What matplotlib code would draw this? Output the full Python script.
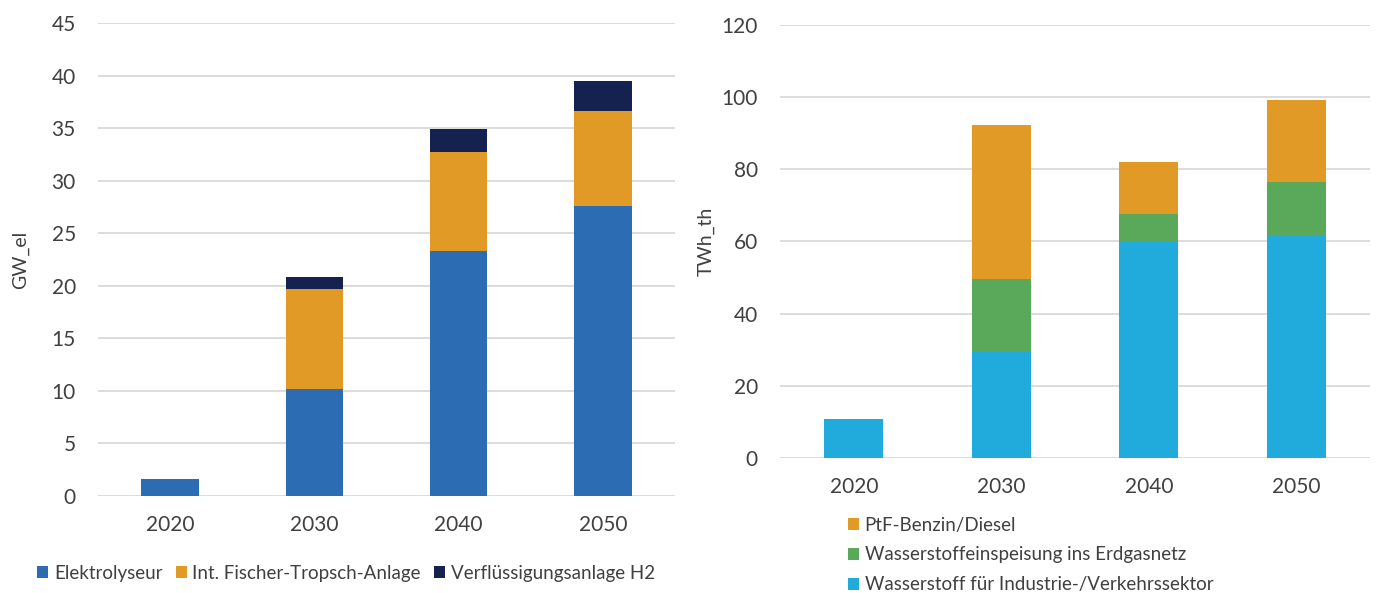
import numpy as np
from matplotlib import pyplot as plt

plt.rcParams['font.family'] = ['Lato', 'DejaVu Sans']

years = ["2020", "2030", "2040", "2050"]

# installed capacity (GW_el)
elektrolyseur = [1.6, 10.2, 23.3, 27.6]
fischer_tropsch = [0.0, 9.5, 9.45, 9.0]
verfluessigung = [0.0, 1.1, 2.2, 2.9]

# energy (TWh_th)
h2_industrie = [10.7, 29.4, 60.1, 61.7]
h2_erdgasnetz = [0.0, 20.2, 7.6, 14.9]
ptf_benzin = [0.0, 42.6, 14.3, 22.7]

text_color = "#404040"
grid_color = "#d9d9d9"


def style_axis(ax, ylim, step, ylabel):
    ax.set_ylim(0, ylim)
    ax.set_yticks(np.arange(0, ylim + 1, step))
    ax.set_xlim(-0.5, 3.5)
    ax.set_xticks(range(len(years)))
    ax.set_xticklabels(years)
    ax.yaxis.grid(True, color=grid_color, linewidth=1.3)
    ax.set_axisbelow(True)
    for s in ax.spines.values():
        s.set_visible(False)
    ax.tick_params(length=0, labelsize=15, colors=text_color)
    ax.tick_params(axis="x", pad=14)
    ax.tick_params(axis="y", pad=16)
    ax.set_ylabel(ylabel, fontsize=14, color=text_color)


fig = plt.figure(figsize=(13.84, 5.93), dpi=100)

# Left: capacities
ax1 = fig.add_axes([0.0708, 0.1636, 0.4169, 0.7976])
x = np.arange(len(years))
w = 0.4
b1 = np.array(elektrolyseur)
b2 = b1 + np.array(fischer_tropsch)
ax1.bar(x, elektrolyseur, w, color="#2b6cb3", label="Elektrolyseur")
ax1.bar(x, fischer_tropsch, w, bottom=b1, color="#e29a27", label="Int. Fischer-Tropsch-Anlage")
ax1.bar(x, verfluessigung, w, bottom=b2, color="#15224f", label="Verflüssigungsanlage H2")
style_axis(ax1, 45, 5, "GW_el")
ax1.yaxis.set_label_coords(-0.12, 0.5)
ax1.legend(loc="upper center", bbox_to_anchor=(0.43, -0.11), ncol=3, frameon=False,
           fontsize=13.5, handlelength=0.6, handleheight=0.6, handletextpad=0.3,
           columnspacing=0.7, labelcolor=text_color)

# Right: energy
ax2 = fig.add_axes([0.5636, 0.2277, 0.4263, 0.7301])
c1 = np.array(h2_industrie)
c2 = c1 + np.array(h2_erdgasnetz)
ax2.bar(x, h2_industrie, w, color="#21aadc", label="Wasserstoff für Industrie-/Verkehrssektor")
ax2.bar(x, h2_erdgasnetz, w, bottom=c1, color="#5aa95b", label="Wasserstoffeinspeisung ins Erdgasnetz")
ax2.bar(x, ptf_benzin, w, bottom=c2, color="#e29a27", label="PtF-Benzin/Diesel")
style_axis(ax2, 120, 20, "TWh_th")
ax2.yaxis.set_label_coords(-0.11, 0.5)
handles, labels = ax2.get_legend_handles_labels()
ax2.legend(handles[::-1], labels[::-1], loc="upper left", bbox_to_anchor=(0.08, -0.088),
           ncol=1, frameon=False, fontsize=13.5, handlelength=0.6, handleheight=0.6,
           handletextpad=0.3, labelspacing=0.68, labelcolor=text_color,
           borderaxespad=0.7)

fig.savefig("out.png", dpi=100)
